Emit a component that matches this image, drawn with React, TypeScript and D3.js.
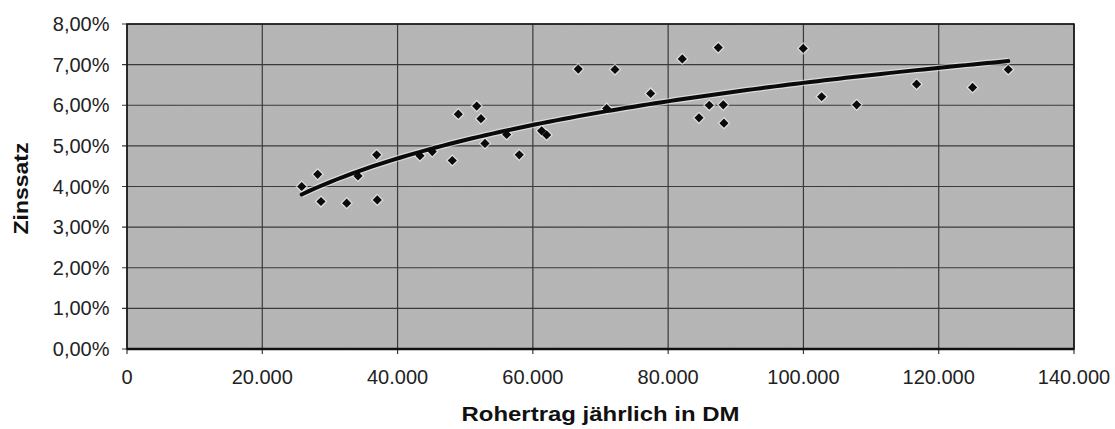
import React from "react";
import * as d3 from "d3";

const rohertrag = [
  25830, 28190, 28680, 32480, 34150, 36910, 37000, 43310, 45130, 48090,
  48980, 51700, 52330, 52920, 56130, 57990, 61300, 62040, 66710, 70910,
  72140, 77410, 82090, 84560, 86080, 87410, 88150, 88250, 99970, 102690,
  107870, 116730, 125010, 130280,
];
const zinssatz = [
  4.0, 4.3, 3.63, 3.59, 4.26, 4.78, 3.67, 4.76, 4.86, 4.64,
  5.78, 5.98, 5.67, 5.06, 5.28, 4.78, 5.37, 5.27, 6.89, 5.92,
  6.88, 6.29, 7.14, 5.69, 6.0, 7.42, 6.01, 5.56, 7.4, 6.21,
  6.01, 6.52, 6.44, 6.88,
];
const xTicks = [0, 20000, 40000, 60000, 80000, 100000, 120000, 140000];
const yTicks = [0, 1, 2, 3, 4, 5, 6, 7, 8];
const xTitle = "Rohertrag jährlich in DM";
const yTitle = "Zinssatz";

const W = 1115;
const H = 429;
const M = { left: 127, right: 1074, top: 24, bottom: 349 };

export default function App() {
  const x = d3.scaleLinear().domain([0, 140000]).range([M.left, M.right]);
  const y = d3.scaleLinear().domain([0, 8]).range([M.bottom, M.top]);

  // logarithmic least-squares trend line (as Excel's log trendline)
  const lx = rohertrag.map((v) => Math.log(v));
  const mx = d3.mean(lx)!;
  const my = d3.mean(zinssatz)!;
  let sxy = 0, sxx = 0;
  lx.forEach((v, i) => {
    sxy += (v - mx) * (zinssatz[i] - my);
    sxx += (v - mx) * (v - mx);
  });
  const b = sxy / sxx;
  const a = my - b * mx;
  const [minX, maxX] = d3.extent(rohertrag) as [number, number];
  const trendPts = d3.range(0, 101).map((i) => {
    const v = minX + ((maxX - minX) * i) / 100;
    return [v, a + b * Math.log(v)] as [number, number];
  });
  const line = d3
    .line<[number, number]>()
    .x((d) => x(d[0]))
    .y((d) => y(d[1]));

  const fmtX = (v: number) =>
    v === 0 ? "0" : d3.format(",")(v).replace(/,/g, ".");
  const fmtY = (v: number) => v.toFixed(2).replace(".", ",") + "%";

  const diamond = d3.symbol().type(d3.symbolSquare).size(42)();

  return (
    <svg
      width={W}
      height={H}
      style={{ position: "absolute", left: 0, top: 0, background: "#fff" }}
      fontFamily="'Liberation Sans', Arial, Helvetica, sans-serif"
    >
      <defs>
        <filter id="noise" x="0" y="0" width="100%" height="100%">
          <feTurbulence type="fractalNoise" baseFrequency="0.9 0.25" numOctaves="2" seed="3" result="t" />
          <feColorMatrix
            type="matrix"
            values="0 0 0 0 0.5  0 0 0 0 0.5  0 0 0 0 0.5  0 0 0 0.35 0"
          />
          <feComposite in2="SourceGraphic" operator="in" />
        </filter>
      </defs>
      <rect x={M.left} y={M.top} width={M.right - M.left} height={M.bottom - M.top} fill="#b5b5b5" />
      <rect
        x={M.left}
        y={M.top}
        width={M.right - M.left}
        height={M.bottom - M.top}
        fill="#b5b5b5"
        filter="url(#noise)"
        opacity={0.6}
      />
      {yTicks.map((t) => (
        <g key={"y" + t}>
          <line x1={M.left - 5} x2={M.right} y1={y(t)} y2={y(t)} stroke="#3a3a3a" strokeWidth={1.2} />
          <text
            x={109.5}
            y={y(t)}
            textAnchor="end"
            dominantBaseline="central"
            fontSize={20}
            fill="#222"
          >
            {fmtY(t)}
          </text>
        </g>
      ))}
      {xTicks.map((t) => (
        <g key={"x" + t}>
          <line x1={x(t)} x2={x(t)} y1={M.top} y2={M.bottom + 5} stroke="#3a3a3a" strokeWidth={1.2} />
          <text
            x={x(t)}
            y={377}
            textAnchor="middle"
            dominantBaseline="central"
            fontSize={20}
            fill="#222"
          >
            {fmtX(t)}
          </text>
        </g>
      ))}
      <rect
        x={M.left}
        y={M.top}
        width={M.right - M.left}
        height={M.bottom - M.top}
        fill="none"
        stroke="#111"
        strokeWidth={1.5}
      />
      <line x1={M.left} x2={M.right} y1={M.bottom} y2={M.bottom} stroke="#111" strokeWidth={2.5} />
      <path d={line(trendPts)!} fill="none" stroke="#fff" strokeOpacity={0.5} strokeWidth={6.5} />
      {rohertrag.map((v, i) => (
        <path
          key={"h" + i}
          d={diamond}
          transform={`translate(${x(v)},${y(zinssatz[i])}) rotate(45)`}
          fill="none"
          stroke="#fff"
          strokeOpacity={0.55}
          strokeWidth={2.5}
        />
      ))}
      <path d={line(trendPts)!} fill="none" stroke="#0a0a0a" strokeWidth={4} strokeLinecap="round" />
      {rohertrag.map((v, i) => (
        <path
          key={"p" + i}
          d={diamond}
          transform={`translate(${x(v)},${y(zinssatz[i])}) rotate(45)`}
          fill="#0a0a0a"
        />
      ))}
      <text
        x={(M.left + M.right) / 2}
        y={420.5}
        textAnchor="middle"
        fontSize={21}
        fontWeight="bold"
        fill="#111"
        textLength={278}
        lengthAdjust="spacingAndGlyphs"
      >
        {xTitle}
      </text>
      <text
        transform={`translate(27.5,${(M.top + M.bottom) / 2 + 2}) rotate(-90)`}
        textAnchor="middle"
        fontSize={21}
        fontWeight="bold"
        fill="#111"
        textLength={92}
        lengthAdjust="spacingAndGlyphs"
      >
        {yTitle}
      </text>
    </svg>
  );
}
